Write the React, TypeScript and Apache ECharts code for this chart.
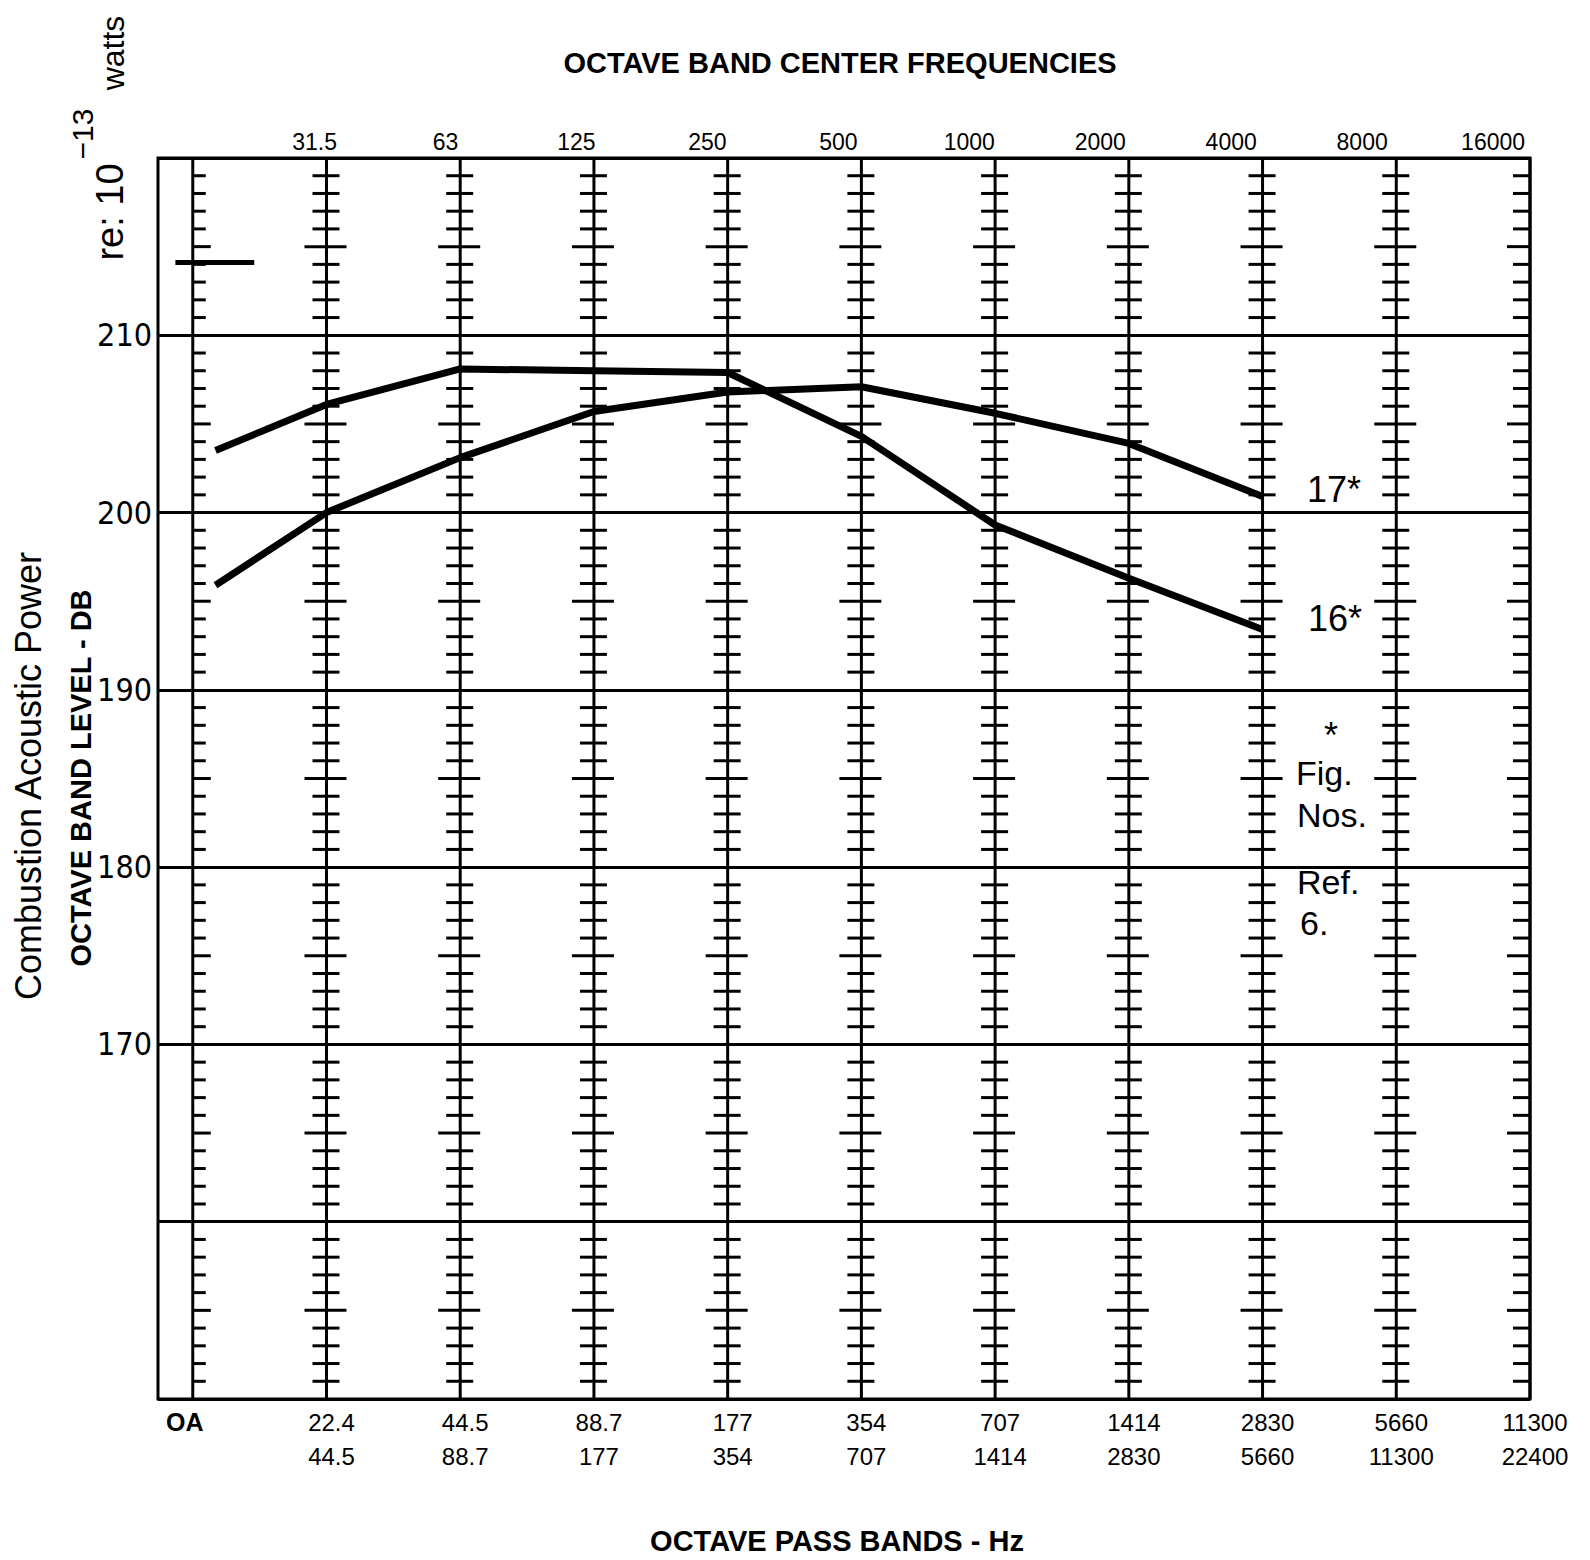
import React, { useEffect, useRef } from "react";
import * as echarts from "echarts";

// ---- data ----
const bandIndex = [0, 1, 2, 3, 4, 5, 6, 7, 8, 9, 10];
const centerFreqLabels = ["31.5", "63", "125", "250", "500", "1000", "2000", "4000", "8000", "16000"];
const passBandLow = ["OA", "22.4", "44.5", "88.7", "177", "354", "707", "1414", "2830", "5660", "11300"];
const passBandHigh = ["", "44.5", "88.7", "177", "354", "707", "1414", "2830", "5660", "11300", "22400"];
const pointPositions = [0.17, 1, 2, 3, 4, 5, 6, 7, 8];
const series16 = [203.5, 206.1, 208.1, 208.0, 207.9, 204.3, 199.3, 196.3, 193.4];
const series17 = [195.9, 200.0, 203.1, 205.7, 206.8, 207.1, 205.6, 203.9, 200.9];
const oaDashX = [-0.13, 0.46];
const oaDashLevel = 214.1;
const yLabelValues = [170, 180, 190, 200, 210];
const Y_MIN = 150;
const Y_MAX = 220;

const FONT = "'Liberation Sans', Arial, sans-serif";
const NARROW = "'Liberation Sans Narrow', 'DejaVu Sans Condensed', 'Liberation Sans', sans-serif";

// graph-paper ruling: small ticks every dB along each vertical line
const rulingTicks: number[][] = [];
for (const b of bandIndex) {
  for (let d = Y_MIN + 1; d < Y_MAX; d++) {
    if (d % 10 !== 0) rulingTicks.push([b, d]);
  }
}

export default function App() {
  const ref = useRef<HTMLDivElement>(null);
  useEffect(() => {
    if (!ref.current) return;
    const chart = echarts.init(ref.current, null, { renderer: "svg" });
    const rotText = (text: string, x: number, y: number, size: number, bold = false, family = FONT) => ({
      type: "text",
      x,
      y,
      rotation: Math.PI / 2,
      style: {
        text,
        fill: "#000",
        font: `${bold ? "bold " : ""}${size}px ${family}`,
        align: "center",
        verticalAlign: "middle",
        textAlign: "center",
        textVerticalAlign: "middle",
      },
    });
    const txt = (text: string, x: number, y: number, size: number, align = "center", bold = false) => ({
      type: "text",
      x,
      y,
      style: {
        text,
        fill: "#000",
        font: `${bold ? "bold " : ""}${size}px ${FONT}`,
        align,
        verticalAlign: "middle",
        textAlign: align,
        textVerticalAlign: "middle",
      },
    });
    const option: any = {
      animation: false,
      backgroundColor: "#fff",
      grid: {
        left: 158,
        right: 60,
        top: 158,
        bottom: 161,
        show: true,
        borderColor: "#000",
        borderWidth: 3,
        backgroundColor: "transparent",
      },
      xAxis: [
        {
          type: "value",
          position: "bottom",
          min: -0.26,
          max: 10,
          axisLine: { show: false },
          axisTick: { show: false },
          splitLine: { show: false },
          axisLabel: {
            customValues: bandIndex,
            margin: 6,
            color: "#000",
            formatter: (v: number) => {
              const i = Math.round(v);
              if (i === 0) return `{oa|${passBandLow[0]}}`;
              return `{a|${passBandLow[i]}}\n{a|${passBandHigh[i]}}`;
            },
            rich: {
              a: { fontSize: 24, lineHeight: 34, fontFamily: FONT, color: "#000", padding: [0, 0, 0, 10] },
              oa: { fontSize: 25, lineHeight: 34, fontFamily: FONT, fontWeight: "bold", color: "#000", padding: [0, 16, 0, 0] },
            },
          },
        },
        {
          type: "value",
          position: "top",
          min: -0.1955,
          max: 10.282,
          axisLine: { show: false },
          axisTick: { show: false },
          splitLine: { show: false },
          axisLabel: {
            customValues: bandIndex.slice(1),
            margin: 5,
            color: "#000",
            fontSize: 23,
            fontFamily: FONT,
            formatter: (v: number) => centerFreqLabels[Math.round(v) - 1] ?? "",
          },
        },
      ],
      yAxis: {
        type: "value",
        min: Y_MIN,
        max: Y_MAX,
        interval: 10,
        axisLine: { show: false },
        axisTick: { show: true, length: 5, lineStyle: { color: "#000", width: 2 } },
        splitLine: { show: true, lineStyle: { color: "#000", width: 3 } },
        axisLabel: {
          margin: 6,
          color: "#000",
          fontSize: 32,
          fontFamily: NARROW,
          formatter: (v: number) => (yLabelValues.includes(v) ? String(v) : ""),
        },
      },
      series: [
        {
          type: "custom",
          name: "ruling",
          xAxisIndex: 0,
          silent: true,
          z: 2,
          data: bandIndex.map((b) => [b, Y_MIN]),
          renderItem: (_p: any, api: any) => {
            const b = api.value(0);
            const top = api.coord([b, Y_MAX]);
            const bot = api.coord([b, Y_MIN]);
            return {
              type: "line",
              shape: { x1: top[0], y1: top[1], x2: bot[0], y2: bot[1] },
              style: { stroke: "#000", lineWidth: 3 },
            };
          },
        },
        {
          type: "custom",
          name: "ticks",
          xAxisIndex: 0,
          silent: true,
          z: 2,
          data: rulingTicks,
          renderItem: (_p: any, api: any) => {
            const b = api.value(0);
            const d = api.value(1);
            const pt = api.coord([b, d]);
            const major = d % 5 === 0;
            let l = major ? 22 : 14;
            let r = major ? 20 : 13;
            if (b === 0) {
              l = 0;
              r = major ? 18 : 13;
            }
            if (b === 10) {
              l = major ? 23 : 17;
              r = 0;
            }
            return {
              type: "line",
              shape: { x1: pt[0] - l, y1: pt[1], x2: pt[0] + r, y2: pt[1] },
              style: { stroke: "#000", lineWidth: 3 },
            };
          },
        },
        {
          type: "line",
          name: "16*",
          xAxisIndex: 0,
          z: 5,
          showSymbol: false,
          lineStyle: { color: "#000", width: 7 },
          data: pointPositions.map((x, i) => [x, series16[i]]),
        },
        {
          type: "line",
          name: "17*",
          xAxisIndex: 0,
          z: 5,
          showSymbol: false,
          lineStyle: { color: "#000", width: 7 },
          data: pointPositions.map((x, i) => [x, series17[i]]),
        },
        {
          type: "line",
          name: "OA",
          xAxisIndex: 0,
          z: 5,
          showSymbol: false,
          lineStyle: { color: "#000", width: 5 },
          data: oaDashX.map((x) => [x, oaDashLevel]),
        },
      ],
      graphic: [
        txt("OCTAVE BAND CENTER FREQUENCIES", 840, 63, 29, "center", true),
        txt("OCTAVE PASS BANDS - Hz", 837, 1541, 29, "center", true),
        rotText("Combustion Acoustic Power", 28, 776, 36),
        rotText("OCTAVE BAND LEVEL - DB", 81, 778, 29, true),
        rotText("re: 10", 110, 212, 38),
        rotText("\u221213", 82, 134, 30),
        rotText("watts", 113, 53, 32),
        txt("17*", 1334, 489, 36),
        txt("16*", 1335, 618, 36),
        txt("*", 1331, 735, 36),
        txt("Fig.", 1296, 773, 34, "left"),
        txt("Nos.", 1297, 815, 34, "left"),
        txt("Ref.", 1297, 882, 34, "left"),
        txt("6.", 1300, 923, 34, "left"),
      ],
    };
    chart.setOption(option);
    return () => chart.dispose();
  }, []);
  return (
    <div
      ref={ref}
      style={{ position: "absolute", left: 0, top: 0, width: 1590, height: 1560, background: "#fff" }}
    />
  );
}
